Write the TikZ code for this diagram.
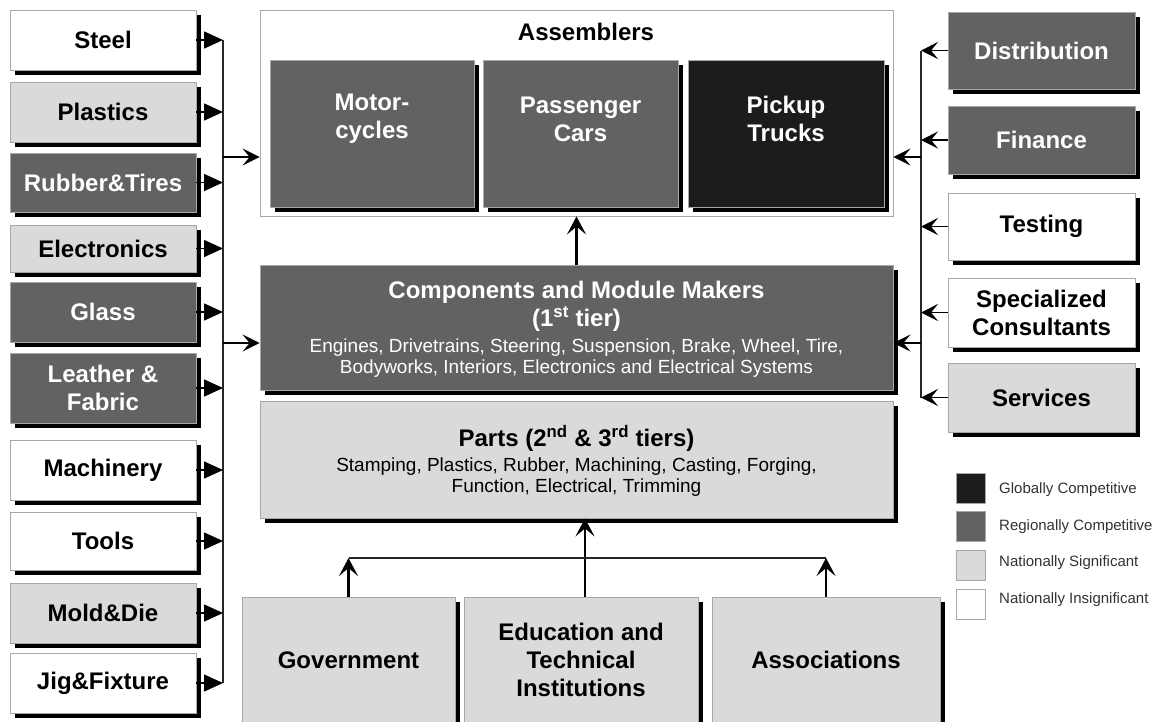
\documentclass[tikz,border=0pt]{standalone}
\usepackage{fontspec}
\setmainfont{Liberation Sans}
\usetikzlibrary{arrows.meta,shadows}

\definecolor{globc}{HTML}{1C1C1C}
\definecolor{regc}{HTML}{626262}
\definecolor{natc}{HTML}{DADADA}
\definecolor{edgec}{HTML}{A8A8A8}

\tikzset{
  card/.style={draw=edgec, line width=0.8pt, inner sep=2pt, align=center,
    font=\bfseries\fontsize{24}{28}\selectfont,
    drop shadow={shadow xshift=5pt, shadow yshift=-5pt, fill=black, opacity=1}},
  sidebox/.style={card, minimum width=186pt},
  gfill/.style={fill=globc, text=white},
  rfill/.style={fill=regc, text=white},
  nfill/.style={fill=natc, text=black},
  ifill/.style={fill=white, text=black},
  headtxt/.style={align=center, inner sep=0pt, font=\bfseries\fontsize{24}{28}\selectfont},
  desctxt/.style={align=center, inner sep=0pt, font=\fontsize{19}{21.5}\selectfont},
  bus/.style={line width=1.4pt, draw=black!85},
  tri/.style={line width=1.4pt, -{Triangle[length=19pt,width=17pt]}},
  barb/.style={line width=1.6pt, -{Stealth[length=17pt,width=17pt,inset=7pt]}},
  bigbarb/.style={line width=2.6pt, -{Stealth[length=18pt,width=19pt,inset=8pt]}},
  keybox/.style={draw=edgec, line width=0.8pt, minimum width=29pt, minimum height=30pt, inner sep=0pt},
  keytxt/.style={anchor=west, inner sep=0pt, text=black!80, font=\fontsize{15}{17}\selectfont}
}

\begin{document}
\begin{tikzpicture}[x=1pt, y=-1pt]
  \clip (0,0) rectangle (1166,721);
  \fill[white] (0,0) rectangle (1166,721);

  % supplier column on the left
  \node[sidebox, ifill, minimum height=60pt] (steel) at (103,40) {Steel};
  \node[sidebox, nfill, minimum height=60pt] (plast) at (103,112) {Plastics};
  \node[sidebox, rfill, minimum height=59pt] (rubber) at (103,182.5) {Rubber\&Tires};
  \node[sidebox, nfill, minimum height=47pt] (elec) at (103,248.5) {Electronics};
  \node[sidebox, rfill, minimum height=60pt] (glass) at (103,312) {Glass};
  \node[sidebox, rfill, minimum height=70pt] (leather) at (103,388) {Leather \&\\Fabric};
  \node[sidebox, ifill, minimum height=60pt] (mach) at (103,470) {Machinery};
  \node[sidebox, ifill, minimum height=58pt] (tools) at (103,541) {Tools};
  \node[sidebox, nfill, minimum height=60pt] (mold) at (103,613) {Mold\&Die};
  \node[sidebox, ifill, minimum height=60pt] (jig) at (103,683) {Jig\&Fixture};

  % support column on the right
  \node[card, rfill, minimum width=187pt, minimum height=77pt] (dist) at (1041.5,50.5) {Distribution};
  \node[card, rfill, minimum width=187pt, minimum height=68pt] (fin) at (1041.5,140) {Finance};
  \node[card, ifill, minimum width=187pt, minimum height=67pt] (test) at (1041.5,226.5) {Testing};
  \node[card, ifill, minimum width=187pt, minimum height=69pt] (cons) at (1041.5,312.5) {Specialized\\Consultants};
  \node[card, nfill, minimum width=187pt, minimum height=69pt] (serv) at (1041.5,397.5) {Services};

  % assemblers
  \node[draw=edgec, line width=0.8pt, fill=white, minimum width=633pt, minimum height=206pt, inner sep=0pt] (asm) at (576.5,113) {};
  \node[headtxt] (asmtitle) at (586,32) {Assemblers};
  \node[card, rfill, minimum width=204pt, minimum height=147pt] (moto) at (372,133.5) {};
  \node[card, rfill, minimum width=195pt, minimum height=147pt] (cars) at (580.5,133.5) {};
  \node[card, gfill, minimum width=196pt, minimum height=147pt] (pick) at (786,133.5) {};
  \node[headtxt, text=white] (mototxt) at (372,119) {Motor-\\cycles};
  \node[headtxt, text=white] (carstxt) at (580.5,119) {Passenger\\Cars};
  \node[headtxt, text=white] (picktxt) at (786,119) {Pickup\\Trucks};

  % first tier
  \node[card, rfill, minimum width=633pt, minimum height=125pt] (comp) at (576.5,327.5) {};
  \node[headtxt, text=white] (comptitle) at (576.5,306) {Components and Module Makers\\(1\textsuperscript{st} tier)};
  \node[desctxt, text=white] (compdesc) at (576.5,358) {Engines, Drivetrains, Steering, Suspension, Brake, Wheel, Tire,\\Bodyworks, Interiors, Electronics and Electrical Systems};

  % second and third tiers
  \node[card, nfill, minimum width=633pt, minimum height=117pt] (parts) at (576.5,459.5) {};
  \node[headtxt] (partstitle) at (576.5,438) {Parts (2\textsuperscript{nd} \& 3\textsuperscript{rd} tiers)};
  \node[desctxt] (partsdesc) at (576.5,477) {Stamping, Plastics, Rubber, Machining, Casting, Forging,\\Function, Electrical, Trimming};

  % institutions at the bottom
  \node[card, nfill, minimum width=213pt, minimum height=126pt] (gov) at (348.5,660) {Government};
  \node[card, nfill, minimum width=234pt, minimum height=126pt] (edu) at (581,660) {Education and\\Technical\\Institutions};
  \node[card, nfill, minimum width=228pt, minimum height=126pt] (assoc) at (826,660) {Associations};

  % legend
  \node[keybox, fill=globc] (kg) at (971,488) {};
  \node[keybox, fill=regc] (kr) at (971,526.5) {};
  \node[keybox, fill=natc] (kn) at (971,565) {};
  \node[keybox, fill=white] (ki) at (971,604.5) {};
  \node[keytxt] (kgt) at (999,490) {Globally Competitive};
  \node[keytxt] (krt) at (999,527) {Regionally Competitive};
  \node[keytxt] (knt) at (999,563) {Nationally Significant};
  \node[keytxt] (kit) at (999,600) {Nationally Insignificant};

  % left collector
  \coordinate (lbus) at (223,0);
  \draw[bus] (steel.east -| lbus) -- (jig.east -| lbus);
  \foreach \b in {steel,plast,rubber,elec,glass,leather,mach,tools,mold,jig}
    \draw[tri] (\b.east) -- (\b.east -| lbus);
  \coordinate (la) at (223,157);
  \coordinate (lc) at (223,343);
  \draw[barb, line width=2.2pt] (la) -- (asm.west |- la);
  \draw[barb, line width=2.2pt] (lc) -- (comp.west |- lc);

  % right collector
  \coordinate (rbus) at (921,0);
  \draw[bus] (dist.west -| rbus) -- (serv.west -| rbus);
  \foreach \b in {dist,fin,test,cons,serv}
    \draw[barb] (\b.west) -- (\b.west -| rbus);
  \coordinate (ra) at (921,157);
  \coordinate (rc) at (921,343);
  \draw[barb, line width=2.2pt] (ra) -- (asm.east |- ra);
  \draw[barb, line width=2.2pt] (rc) -- (comp.east |- rc);

  % vertical flow
  \draw[bigbarb] (comp.north) -- (comp.north |- asm.south);
  \draw[bigbarb] (edu.north -| 585,0) -- (parts.south -| 585,0);
  \coordinate (hb) at (0,558);
  \draw[bus] (gov.north |- hb) -- (assoc.north |- hb);
  \draw[bigbarb] (gov.north) -- (gov.north |- hb);
  \draw[bigbarb] (assoc.north) -- (assoc.north |- hb);
\end{tikzpicture}
\end{document}
